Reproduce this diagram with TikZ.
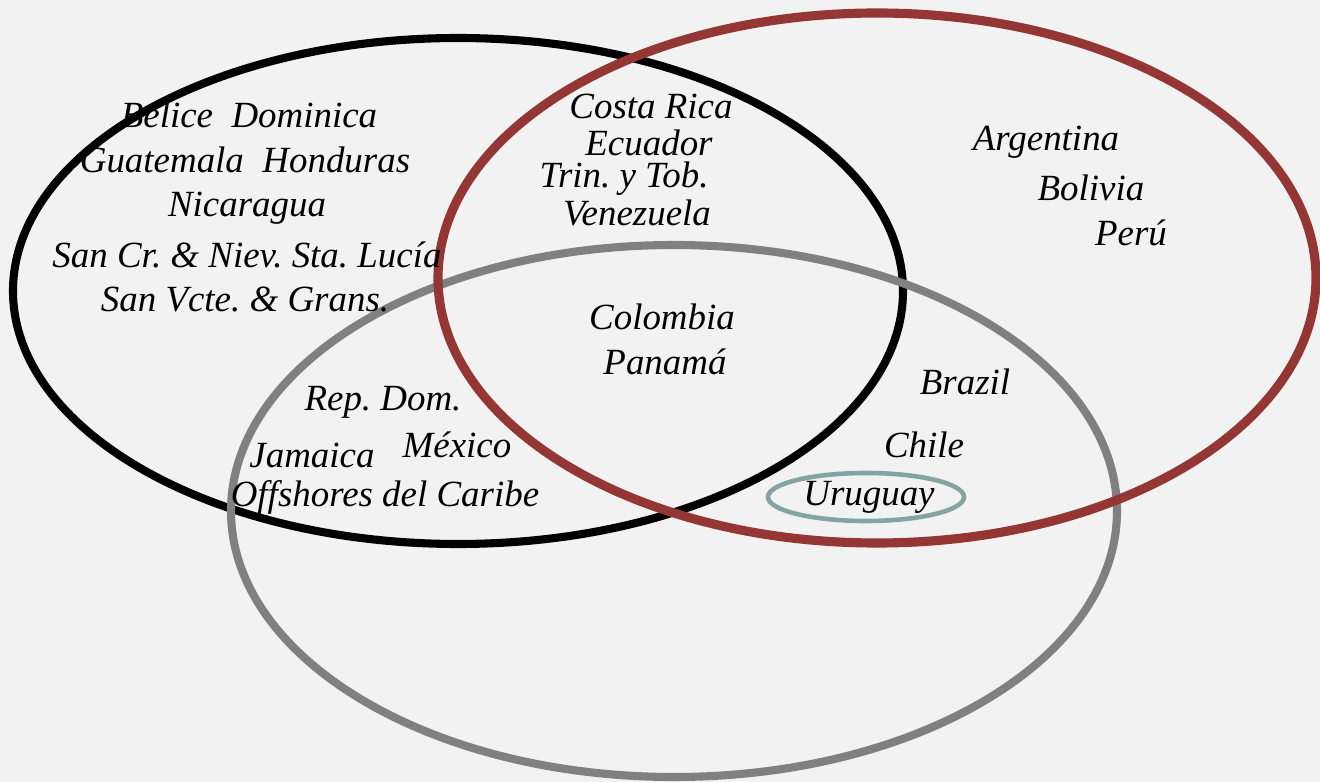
\documentclass[tikz,border=0pt]{standalone}
\usepackage{fontspec}
\setmainfont{Liberation Serif}
\usetikzlibrary{shapes,calc}

\definecolor{bgcol}{RGB}{242,242,242}
\definecolor{redring}{RGB}{148,54,52}
\definecolor{grayring}{RGB}{128,128,128}
\definecolor{tealring}{RGB}{134,163,163}

\tikzset{
	country/.style={inner sep=0pt, font=\fontsize{10.5}{12}\selectfont\itshape},
	ring/.style={line width=2.3pt}
}

\begin{document}
\frenchspacing
\begin{tikzpicture}[x=0.01cm, y=-0.01cm]
	\fill [bgcol] (0, 0) rectangle (1320, 782);
	\useasboundingbox (0, 0) rectangle (1320, 782);
	\draw [ring, black] (458, 291) ellipse (445 and 253);
	\draw [ring, grayring] (674, 511) ellipse (443 and 266);
	\draw [ring, redring, line width=2.6pt] (877, 278) ellipse (439 and 265);
	\draw [tealring, line width=1.3pt] (866, 497) ellipse (98 and 24);
	% first circle only
	\node [country] (belice) at (249, 115) {Belice\enspace Dominica};
	\node [country] (guatemala) at (245, 160) {Guatemala\enspace Honduras};
	\node [country] (nicaragua) at (247, 208) {Nicaragua};
	\node [country] (sancr) at (247, 255) {San Cr. \& Niev. Sta. Lucía};
	\node [country] (sanvcte) at (245, 300) {San Vcte. \& Grans.};
	% first and second
	\node [country] (costarica) at (651, 106) {Costa Rica};
	\node [country] (ecuador) at (649, 143) {Ecuador};
	\node [country] (trinidad) at (624, 179) {Trin. y Tob.};
	\node [country] (venezuela) at (637, 213) {Venezuela};
	% second only
	\node [country] (argentina) at (1046, 142) {Argentina};
	\node [country] (bolivia) at (1091, 188) {Bolivia};
	\node [country] (peru) at (1131, 233) {Perú};
	% all three
	\node [country] (colombia) at (662, 317) {Colombia};
	\node [country] (panama) at (665, 362) {Panamá};
	% first and third
	\node [country] (repdom) at (383, 402) {Rep. Dom.};
	\node [country] (jamaica) at (312, 455) {Jamaica};
	\node [country] (mexico) at (457, 445) {México};
	\node [country] (offshores) at (385, 497) {Offshores del Caribe};
	% second and third
	\node [country] (brazil) at (965, 382) {Brazil};
	\node [country] (chile) at (924, 445) {Chile};
	\node [country] (uruguay) at (869, 497) {Uruguay};
\end{tikzpicture}
\end{document}
